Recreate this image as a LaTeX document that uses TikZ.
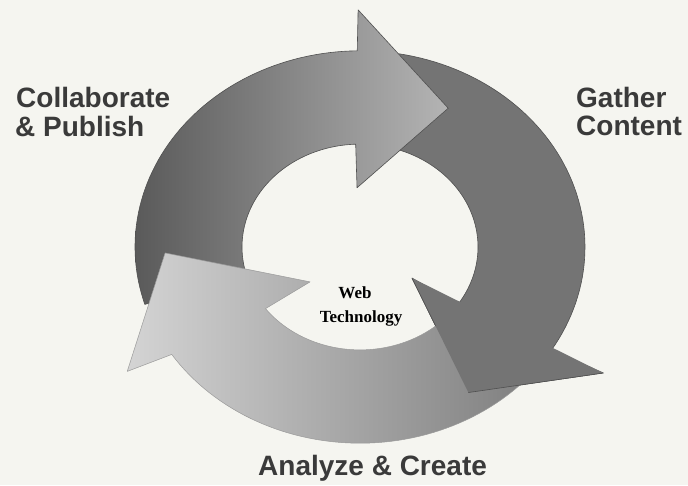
\documentclass[tikz,border=0pt]{standalone}
\usepackage{fontspec}
\setmainfont{Liberation Sans}
\newfontfamily\webserif{Liberation Serif}
\definecolor{bg}{HTML}{F5F5F0}
\definecolor{txt}{HTML}{3A3A3A}
\definecolor{aonel}{HTML}{5A5A5A}
\definecolor{aoner}{HTML}{B4B4B4}
\definecolor{atwo}{HTML}{747474}
\definecolor{athreel}{HTML}{D4D4D4}
\definecolor{athreer}{HTML}{7E7E7E}
\definecolor{edgedark}{HTML}{505050}
\definecolor{edgelight}{HTML}{9A9A9A}
\tikzset{
  lbl/.style={font=\fontsize{28}{30}\selectfont\bfseries, text=txt, inner sep=0pt},
  webtxt/.style={font=\webserif\fontsize{17}{19}\selectfont\bfseries, text=black, inner sep=0pt},
  arrowone/.style={left color=aonel, right color=aoner, draw=edgedark, line width=0.6pt, line join=round},
  arrowtwo/.style={fill=atwo, draw=edgedark, line width=0.6pt, line join=round},
  arrowthree/.style={left color=athreel, right color=athreer, draw=edgelight, line width=0.5pt, line join=round},
}
\begin{document}
\begin{tikzpicture}[x=1pt,y=-1pt]
\path[fill=bg] (0,0) rectangle (688,485);
\useasboundingbox (0,0) rectangle (688,485);
\begin{scope}[shift={(360,247)}, yscale=-0.872]
  % arrow 2 (right, Gather Content)
  \path[arrowtwo] plot[domain=80:-31.7, samples=60] (\x:225) -- (-30.7:283) -- (-57:199) -- (-34.4:63)
     -- plot[domain=-33.6:80, samples=60] (\x:118) -- cycle;
  % arrow 1 (top-left, Collaborate & Publish)
  \path[arrowone] plot[domain=197:90.7, samples=60] (\x:225) -- (90.4:272) -- (61:182) -- (92.5:68)
     -- plot[domain=92.1:197, samples=60] (\x:118) -- cycle;
  % arrow 3 (bottom, Analyze & Create)
  \path[arrowthree] plot[domain=-38:-146.8, samples=60] (\x:225) -- (-148.5:273) -- (-178:195) -- (-141.3:64)
     -- plot[domain=-143.2:-38, samples=60] (\x:118) -- cycle;
  % head of arrow 2 on top of the tail of arrow 3
  \fill[atwo] (-30.7:283) -- (-57:199) -- (-34.4:63) -- cycle;
  \draw[edgedark, line width=0.6pt, line join=round] (-30.7:283) -- (-57:199);
  \draw[edgedark, line width=0.6pt] (-34.4:63) -- (75.7,-90.7);
\end{scope}
\node[lbl, anchor=base west] (cp1) at (16,107) {Collaborate};
\node[lbl, anchor=base west] (cp2) at (15,136) {\& Publish};
\node[lbl, anchor=base west] (gc1) at (576,107) {Gather};
\node[lbl, anchor=base west] (gc2) at (576,135) {Content};
\node[lbl, anchor=base west] (ac) at (258,475) {Analyze \& Create};
\node[webtxt, anchor=base] (w1) at (355,298) {Web};
\node[webtxt, anchor=base] (w2) at (361,322) {Technology};
\end{tikzpicture}
\end{document}
